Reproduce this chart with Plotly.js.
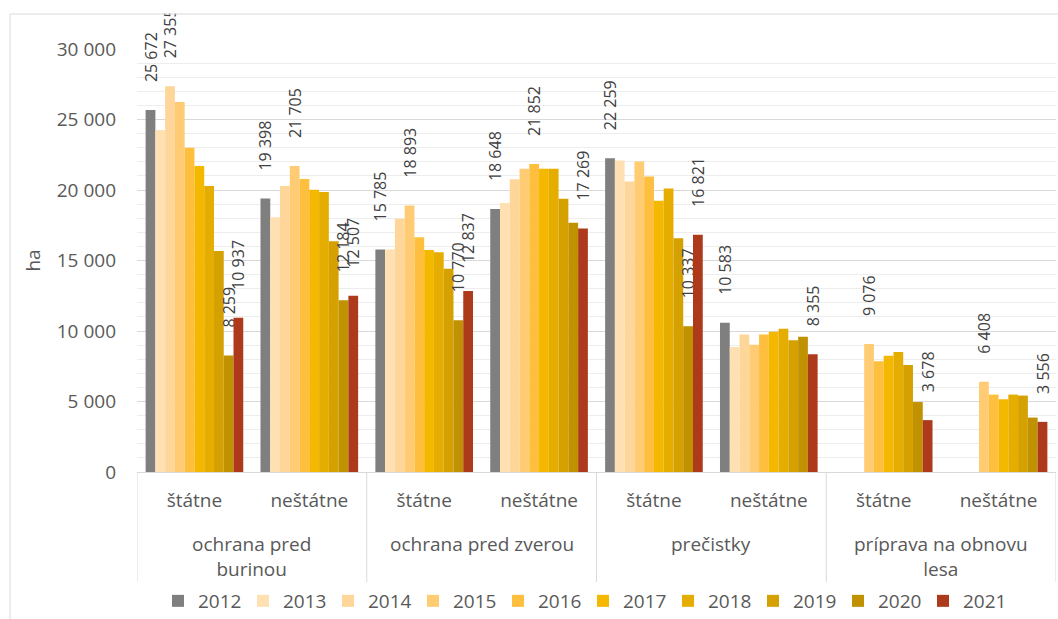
<!DOCTYPE html>
<html>
<head>
<meta charset="utf-8">
<script src="https://cdn.plot.ly/plotly-3.0.1.min.js"></script>
<style>html,body{margin:0;padding:0;background:#fff;}#chart{width:1058px;height:619px;}</style>
</head>
<body>
<div id="chart"></div>
<script>
// ---- data ----
const groupLabels = ['ochrana pred<br>burinou', 'ochrana pred zverou', 'prečistky', 'príprava na obnovu<br>lesa'];
const subLabels = ['štátne', 'neštátne'];
const years = ['2012','2013','2014','2015','2016','2017','2018','2019','2020','2021'];
const v2012 = [25672, 19398, 15785, 18648, 22259, 10583, null, null];
const v2013 = [24255, 18063, 15785, 19070, 22100, 8860, null, null];
const v2014 = [27355, 20284, 17967, 20770, 20600, 9760, null, null];
const v2015 = [26241, 21705, 18893, 21500, 22020, 9020, 9076, 6408];
const v2016 = [23000, 20780, 16643, 21852, 20950, 9760, 7850, 5490];
const v2017 = [21700, 20024, 15745, 21500, 19230, 9950, 8250, 5160];
const v2018 = [20284, 19858, 15580, 21500, 20100, 10160, 8510, 5490];
const v2019 = [15674, 16360, 14420, 19380, 16580, 9350, 7590, 5420];
const v2020 = [8259, 12184, 10770, 17680, 10337, 9590, 4960, 3860];
const v2021 = [10937, 12507, 12837, 17269, 16821, 8355, 3678, 3556];
const yTickVals = [0, 5000, 10000, 15000, 20000, 25000, 30000];
const yTickText = ['0', '5 000', '10 000', '15 000', '20 000', '25 000', '30 000'];

const series = [v2012, v2013, v2014, v2015, v2016, v2017, v2018, v2019, v2020, v2021];
const colors = ['#7f7f7f','#ffe0b3','#ffd699','#ffcb73','#fdbf3d','#f5b800','#e5ad00','#d4a100','#c09100','#ae3a1c'];

// ---- build ----
const catKeys = [], catText = [];
groupLabels.forEach((g, gi) => subLabels.forEach(s => { catKeys.push(gi + '|' + s); catText.push(s); }));

function fmt(v) { return String(v).replace(/\B(?=(\d{3})+(?!\d))/g, ' '); }
const pad = '\u00a0\u00a0\u00a0\u00a0\u00a0\u00a0';

// labels: first available, max, min, last of each category
const nCat = catKeys.length;
const show = series.map(() => new Array(nCat).fill(false));
for (let c = 0; c < nCat; c++) {
  let first = -1, last = -1, mx = -1, mn = -1;
  series.forEach((s, i) => {
    const v = s[c];
    if (v == null) return;
    if (first < 0) first = i;
    last = i;
    if (mx < 0 || v > series[mx][c]) mx = i;
    if (mn < 0 || v < series[mn][c]) mn = i;
  });
  [first, last, mx, mn].forEach(i => { if (i >= 0) show[i][c] = true; });
}

const traces = series.map((s, i) => ({
  type: 'bar',
  name: years[i],
  x: catKeys,
  y: s,
  marker: { color: colors[i], line: { width: 0 } },
  text: s.map((v, c) => (v != null && show[i][c]) ? pad + fmt(v) : ''),
  textposition: 'outside',
  textangle: -90,
  constraintext: 'none',
  cliponaxis: false,
  outsidetextfont: { family: 'Open Sans, sans-serif', size: 16, color: '#404040' },
  hoverinfo: 'skip'
}));

const L = 137, R = 2, T = 49, B = 147;
const W = 1058 - L - R, H = 619 - T - B;
const xp = px => (px - L) / W;
const yp = py => (619 - B - py) / H;

const sub = subLabels.length;
const annotations = groupLabels.map((g, gi) => ({
  xref: 'x', yref: 'paper',
  x: gi * sub + (sub - 1) / 2, y: yp(529),
  xanchor: 'center', yanchor: 'top',
  text: g, showarrow: false,
  font: { size: 19, color: '#595959' }
}));

const shapes = [
  { // white mask above the chart frame
    type: 'rect', xref: 'paper', yref: 'paper',
    x0: xp(-10), x1: xp(1080), y0: yp(13.5), y1: yp(-10),
    line: { width: 0 }, fillcolor: '#ffffff', layer: 'above'
  },
  { // chart frame
    type: 'rect', xref: 'paper', yref: 'paper',
    x0: xp(10), x1: xp(1075), y0: yp(640), y1: yp(14),
    line: { color: '#d9d9d9', width: 1 }, fillcolor: 'rgba(0,0,0,0)', layer: 'above'
  }
];
for (let gi = 0; gi <= groupLabels.length; gi++) {
  shapes.push({
    type: 'line', xref: 'x', yref: 'paper',
    x0: gi * sub - 0.5, x1: gi * sub - 0.5, y0: 0, y1: yp(582),
    line: { color: '#d9d9d9', width: 1 }, layer: 'below'
  });
}

const layout = {
  width: 1058, height: 619,
  margin: { l: L, r: R, t: T, b: B, pad: 0, autoexpand: false },
  paper_bgcolor: '#ffffff', plot_bgcolor: '#ffffff',
  font: { family: 'Open Sans, sans-serif', size: 19, color: '#595959' },
  barmode: 'group',
  bargap: 0.15,
  bargroupgap: 0,
  showlegend: true,
  legend: {
    orientation: 'h', x: xp(583), xanchor: 'center', y: yp(601), yanchor: 'middle',
    font: { size: 19, color: '#595959' }, traceorder: 'normal', itemwidth: 30,
    entrywidth: 40, entrywidthmode: 'pixels'
  },
  xaxis: {
    type: 'category',
    categoryorder: 'array', categoryarray: catKeys,
    tickvals: catKeys, ticktext: catText,
    range: [-0.5, nCat - 0.5],
    showline: true, linecolor: '#d9d9d9', linewidth: 1,
    tickfont: { size: 19, color: '#595959' },
    ticklabelstandoff: 11,
    showgrid: false, ticks: '', automargin: false, fixedrange: true
  },
  yaxis: {
    range: [0, 30000],
    tickvals: yTickVals, ticktext: yTickText,
    showgrid: true, gridcolor: '#d9d9d9', gridwidth: 1,
    minor: { dtick: 1000, showgrid: true, gridcolor: '#ededed', gridwidth: 1 },
    zeroline: false, showline: false, ticks: '',
    tickfont: { size: 19, color: '#595959' },
    ticklabelstandoff: 20,
    title: { text: 'ha', font: { size: 19, color: '#595959' }, standoff: 11 },
    automargin: false, fixedrange: true
  },
  annotations: annotations,
  shapes: shapes
};

Plotly.newPlot('chart', traces, layout, { displayModeBar: false, staticPlot: true });
</script>
</body>
</html>
